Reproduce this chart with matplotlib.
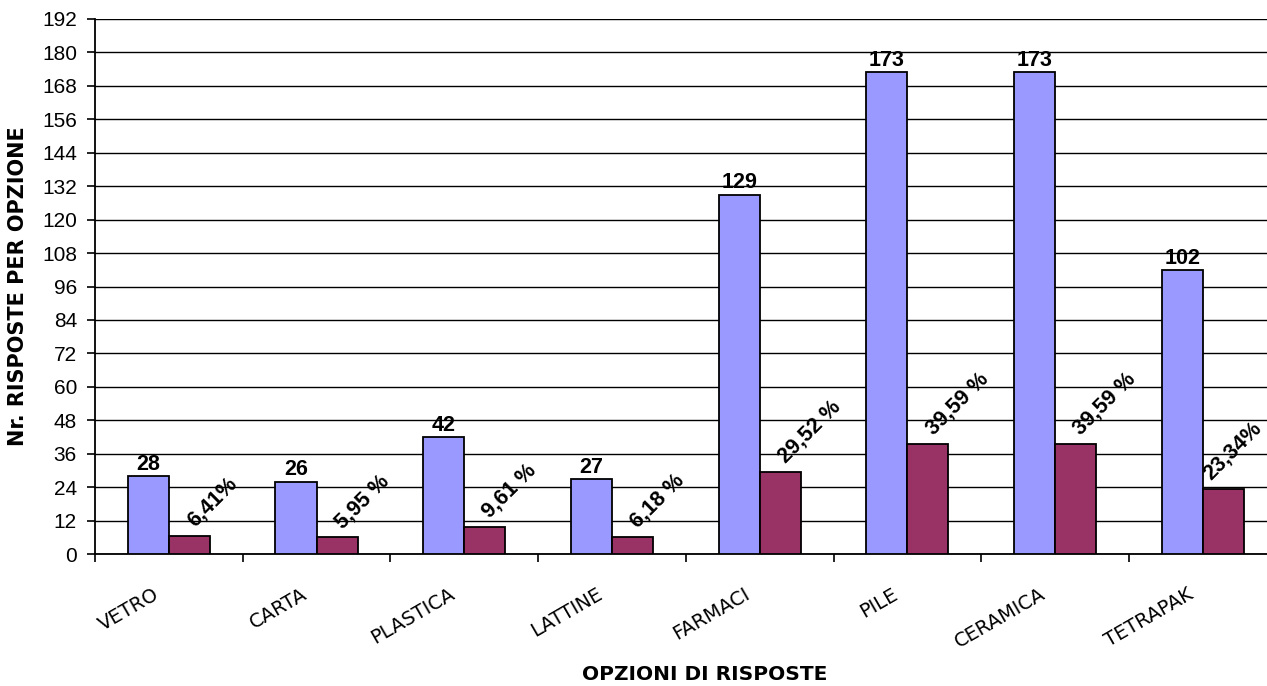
import matplotlib
matplotlib.use("Agg")
import matplotlib.pyplot as plt
import matplotlib.transforms as mtransforms
import numpy as np

categories = ["VETRO", "CARTA", "PLASTICA", "LATTINE", "FARMACI", "PILE", "CERAMICA", "TETRAPAK"]
risposte = [28, 26, 42, 27, 129, 173, 173, 102]
percentuali = [6.41, 5.95, 9.61, 6.18, 29.52, 39.59, 39.59, 23.34]
perc_labels = ["6,41%", "5,95 %", "9,61 %", "6,18 %", "29,52 %", "39,59 %", "39,59 %", "23,34%"]
yticks = list(range(0, 193, 12))

W, H = 1267, 686
fig = plt.figure(figsize=(W / 100, H / 100), dpi=100)
ax = fig.add_axes([95 / W, 132 / H, 1181.6 / W, 535 / H])

x = np.arange(len(categories))
w = 0.278
ax.bar(x - w / 2, risposte, w, color="#9999FF", edgecolor="black", linewidth=1.3, zorder=3)
ax.bar(x + w / 2, percentuali, w, color="#993366", edgecolor="black", linewidth=1.3, zorder=3)

for xi, v in zip(x, risposte):
    ax.text(xi - w / 2, v + 0.4, str(v), ha="center", va="bottom", fontsize=15.5,
            fontweight="bold", family="Liberation Sans", zorder=4)
ptexts = []
for xi, v, lab in zip(x, percentuali, perc_labels):
    t = ax.text(xi + w / 2 + 0.035, v + 3.0, lab, ha="left", va="baseline", rotation=45,
                rotation_mode="anchor", fontsize=15.5, fontweight="bold",
                family="Liberation Sans", zorder=4)
    ptexts.append(t)

ax.set_xlim(-0.5, len(categories) - 0.5)
ax.set_ylim(0, 192)
ax.set_yticks(yticks)
ax.set_yticklabels([str(t) for t in yticks], fontsize=15, family="Liberation Sans")
ax.yaxis.grid(True, color="black", linewidth=1.0, zorder=0)
ax.set_axisbelow(True)

ax.set_xticks(np.arange(len(categories) + 1) - 0.5, minor=False)
ax.set_xticklabels([])
ax.set_xticks(x, minor=True)
ax.set_xticklabels(categories, minor=True, rotation=30, ha="right", va="center",
                   rotation_mode="anchor", fontsize=14, family="DejaVu Sans")
ax.tick_params(axis="x", which="minor", length=0, pad=23)
ax.tick_params(axis="x", which="major", length=6, direction="out", width=1.2)
ax.tick_params(axis="y", length=6, direction="out", width=1.2, pad=7)

shift = mtransforms.ScaledTranslation(-11 / 100, -7 / 100, fig.dpi_scale_trans)
for lab in ax.get_xticklabels(minor=True):
    lab.set_transform(lab.get_transform() + shift)

for s in ["top", "right"]:
    ax.spines[s].set_visible(False)
ax.spines["left"].set_linewidth(1.3)
ax.spines["bottom"].set_linewidth(1.3)

fig.text(705 / W, 1 - 675 / H, "OPZIONI DI RISPOSTE", ha="center", va="center",
         fontsize=14.5, fontweight="bold", family="DejaVu Sans")
fig.text(18 / W, 1 - 286 / H, "Nr. RISPOSTE PER OPZIONE", ha="center", va="center",
         rotation=90, fontsize=15, fontweight="bold", family="DejaVu Sans")

# keep rotated percentage labels inside the figure
fig.canvas.draw()
renderer = fig.canvas.get_renderer()
for t in ptexts:
    bb = t.get_window_extent(renderer)
    over = bb.x1 - (W - 1)
    if over > 0:
        t.set_transform(t.get_transform() +
                        mtransforms.ScaledTranslation(-over / 100, 0, fig.dpi_scale_trans))

fig.savefig("out.png", dpi=100)
